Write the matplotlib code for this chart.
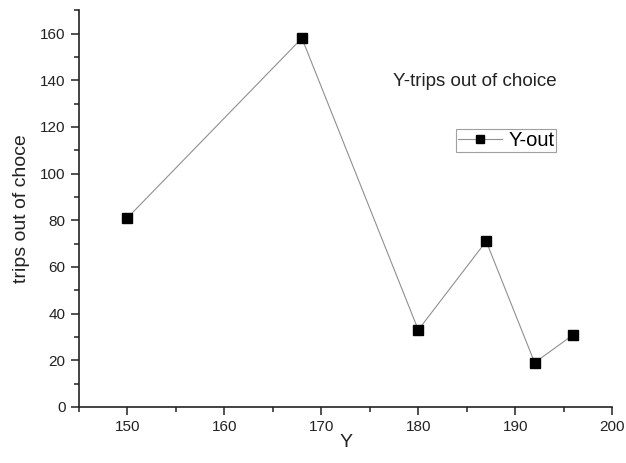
import matplotlib
matplotlib.use("Agg")
import matplotlib.pyplot as plt
from matplotlib.ticker import MultipleLocator

plt.rcParams['font.family'] = ['Liberation Sans', 'DejaVu Sans']

# data
y_vals = [150, 168, 180, 187, 192, 196]
trips_out = [81, 158, 33, 71, 19, 31]

fig = plt.figure(figsize=(6.26, 4.63), dpi=100)
ax = fig.add_axes([0.126, 0.121, 0.852, 0.857])

ax.plot(y_vals, trips_out, color='#909090', linewidth=0.8,
        marker='s', markersize=7, markerfacecolor='black',
        markeredgecolor='black', label='Y-out')

ax.set_xlim(145, 200)
ax.set_ylim(0, 170)
ax.xaxis.set_major_locator(MultipleLocator(10))
ax.xaxis.set_minor_locator(MultipleLocator(5))
ax.yaxis.set_major_locator(MultipleLocator(20))
ax.yaxis.set_minor_locator(MultipleLocator(10))

for side in ['top', 'right']:
    ax.spines[side].set_visible(False)
for side in ['left', 'bottom']:
    ax.spines[side].set_linewidth(1.2)
    ax.spines[side].set_color('#222222')

ax.tick_params(which='major', direction='out', length=6, width=1.1,
               labelsize=11, colors='#222222')
ax.tick_params(which='minor', direction='out', length=3.5, width=1.1,
               colors='#222222')

ax.set_xlabel('Y', fontsize=14, color='#222222', labelpad=0)
ax.set_ylabel('trips out of choce', fontsize=14, color='#222222',
              labelpad=7)

ax.text(0.589, 0.81, 'Y-trips out of choice', transform=ax.transAxes,
        fontsize=13.5, color='#222222')

leg = ax.legend(loc='upper left', bbox_to_anchor=(0.707, 0.70),
                fontsize=14.5, frameon=True, fancybox=False,
                handlelength=2.2, handletextpad=0.3, borderpad=0.1,
                borderaxespad=0, markerscale=0.85)
leg.get_frame().set_edgecolor('#888888')
leg.get_frame().set_linewidth(0.8)

fig.savefig('out.png', dpi=100)
